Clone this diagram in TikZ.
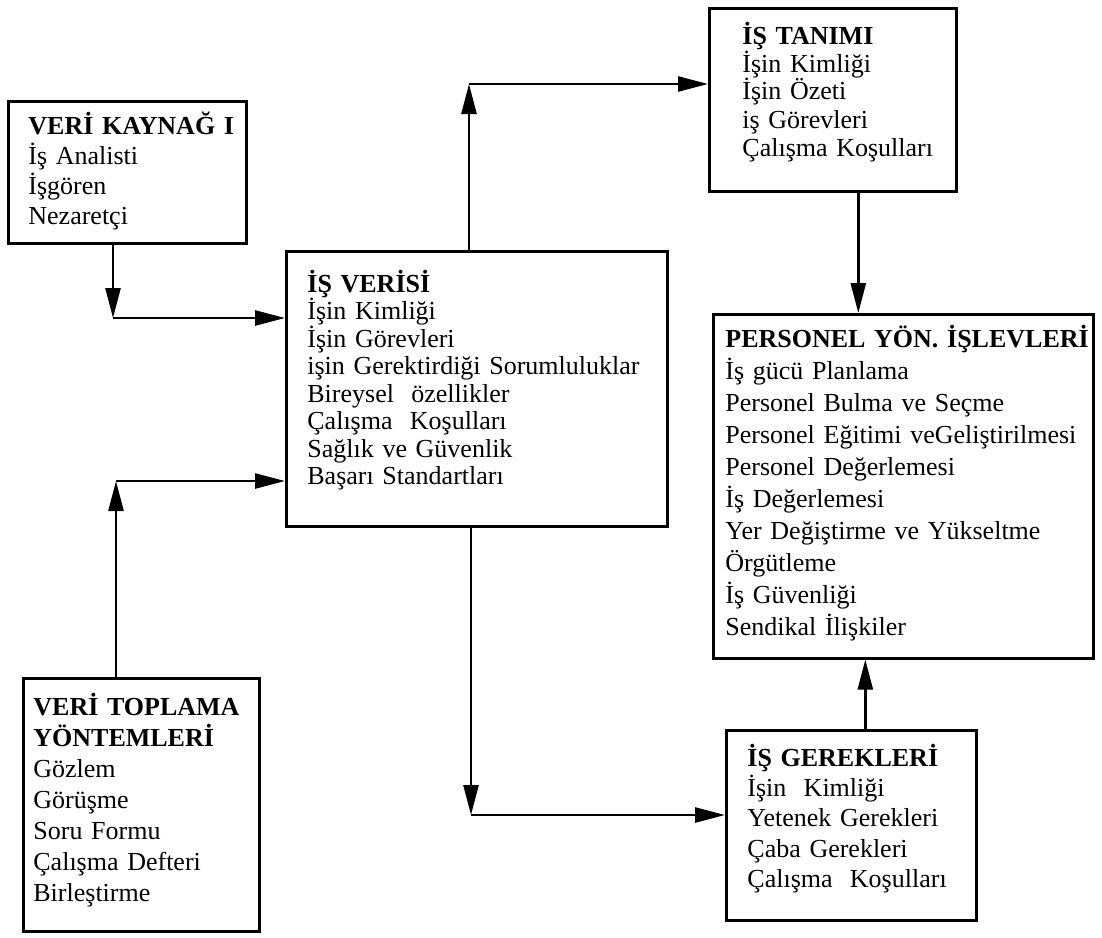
\documentclass[tikz,border=0pt]{standalone}
\usepackage{fontspec}
\setmainfont{Liberation Serif}
\usepackage{tikz}
\usetikzlibrary{arrows.meta}

\begin{document}
\begin{tikzpicture}[x=0.5pt, y=-0.5pt,
    kutu/.style={draw, line width=1.3pt, anchor=north west, inner sep=0pt},
    yazi/.style={anchor=base west, inner sep=0pt, align=left},
    ok/.style={line width=1.3pt, -{Triangle[length=15pt, width=7.5pt]}}]
  \useasboundingbox (0,0) rectangle (1102,937);

  \node[kutu, minimum width=119pt, minimum height=71pt] (kaynak) at (7,100) {};
  \node[yazi, text width=105pt, font=\fontsize{13}{15}\selectfont] (kaynakyazi) at (28,134)
    {\textbf{VERİ KAYNAĞ I}\\ İş Analisti\\ İşgören\\ Nezaretçi};

  \node[kutu, minimum width=190.5pt, minimum height=137.5pt] (verisi) at (285,250) {};
  \node[yazi, text width=180pt, font=\fontsize{13}{13.75}\selectfont] (verisiyazi) at (307,292)
    {\textbf{İŞ VERİSİ}\\ İşin Kimliği\\ İşin Görevleri\\ işin Gerektirdiği Sorumluluklar\\
     Bireysel~ özellikler\\ Çalışma~ Koşulları\\ Sağlık ve Güvenlik\\ Başarı Standartları};

  \node[kutu, minimum width=123.5pt, minimum height=91.5pt] (tanim) at (708,7) {};
  \node[yazi, text width=105pt, font=\fontsize{13}{14}\selectfont] (tanimyazi) at (742,44)
    {\textbf{İŞ TANIMI}\\ İşin Kimliği\\ İşin Özeti\\ iş Görevleri\\ Çalışma Koşulları};

  \node[kutu, minimum width=190pt, minimum height=172pt] (personel) at (712,313) {};
  \node[yazi, text width=185pt, font=\fontsize{13}{16}\selectfont] (personelyazi) at (725,347)
    {\textbf{PERSONEL YÖN. İŞLEVLERİ}\\ İş gücü Planlama\\ Personel Bulma ve Seçme\\
     Personel Eğitimi veGeliştirilmesi\\ Personel Değerlemesi\\ İş Değerlemesi\\
     Yer Değiştirme ve Yükseltme\\ Örgütleme\\ İş Güvenliği\\ Sendikal İlişkiler};

  \node[kutu, minimum width=125pt, minimum height=95pt] (gerek) at (725,729) {};
  \node[yazi, text width=112pt, font=\fontsize{13}{15.2}\selectfont] (gerekyazi) at (747,766)
    {\textbf{İŞ GEREKLERİ}\\ İşin~ Kimliği\\ Yetenek Gerekleri\\ Çaba Gerekleri\\ Çalışma~ Koşulları};

  \node[kutu, minimum width=118pt, minimum height=126.5pt] (toplama) at (22,677) {};
  \node[yazi, text width=110pt, font=\fontsize{13}{15.5}\selectfont] (toplamayazi) at (33,715)
    {\textbf{VERİ TOPLAMA}\\ \textbf{YÖNTEMLERİ}\\ Gözlem\\ Görüşme\\ Soru Formu\\
     Çalışma Defteri\\ Birleştirme};

  \coordinate (k1) at (113,318);
  \coordinate (t1) at (116,481);
  \coordinate (v1) at (469,84);
  \coordinate (v2) at (471,815);

  \draw[ok] (kaynak.south -| k1) -- (k1);
  \draw[ok] (k1) -- (k1 -| verisi.west);
  \draw[ok] (toplama.north -| t1) -- (t1);
  \draw[ok] (t1) -- (t1 -| verisi.west);
  \draw[ok] (verisi.north -| v1) -- (v1);
  \draw[ok] (v1) -- (v1 -| tanim.west);
  \draw[ok] (verisi.south -| v2) -- (v2);
  \draw[ok] (v2) -- (v2 -| gerek.west);
  \draw[ok] ([xshift=12.75pt]tanim.south) -- ([xshift=12.75pt]tanim.south |- personel.north);
  \draw[ok] ([xshift=7pt]gerek.north) -- ([xshift=7pt]gerek.north |- personel.south);
\end{tikzpicture}
\end{document}
